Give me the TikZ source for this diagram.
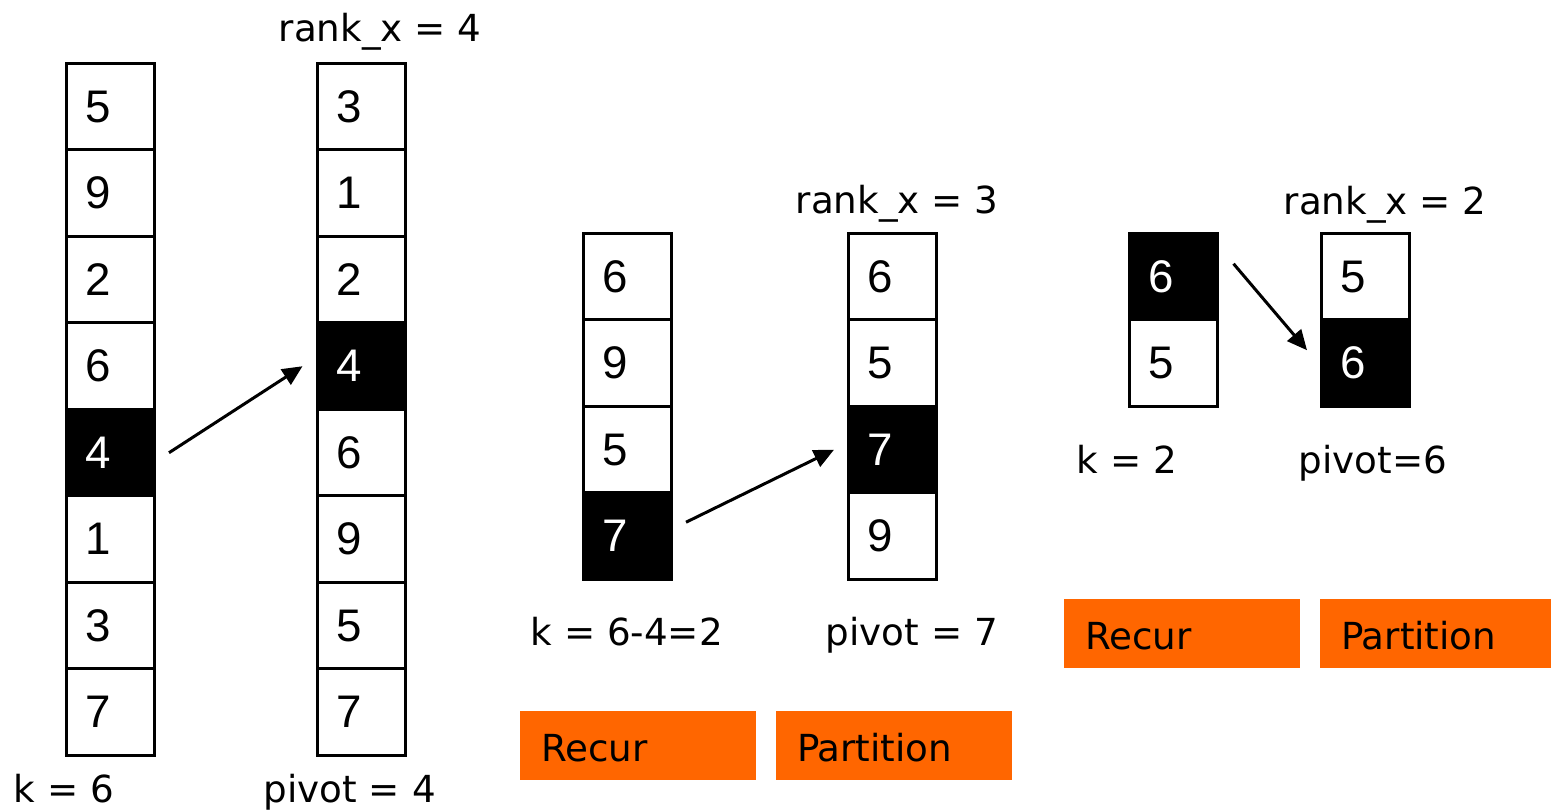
\documentclass[tikz,border=0pt]{standalone}
\usepackage{fontspec}
\setmainfont{DejaVu Sans}
\newfontfamily\cellfont{Liberation Sans}
\usepackage{tikz}
\usetikzlibrary{positioning}
\usetikzlibrary{arrows.meta}
\usepackage{xcolor}
\definecolor{boxorange}{HTML}{FF6600}

\tikzset{
    cell/.style={draw, line width=0.03cm, outer sep=0pt,
        minimum width=0.88cm, minimum height=0.865cm,
        inner xsep=0.19cm, inner ysep=0pt, text width=0.50cm, align=left,
        font=\cellfont\fontsize{13}{15}\selectfont},
    pivotcell/.style={cell, fill=black, text=white},
    note/.style={anchor=base west, inner sep=0pt, font=\fontsize{10.6}{12}\selectfont},
    action/.style={fill=boxorange, minimum width=2.36cm, minimum height=0.69cm,
        inner xsep=0.21cm, text width=1.94cm, align=left,
        text height=0.33cm, text depth=0cm,
        font=\fontsize{10.6}{12}\selectfont},
    pointer/.style={-{Triangle[length=0.2cm,width=0.18cm]}, line width=0.03cm}
}

\begin{document}
\begin{tikzpicture}
    \useasboundingbox (0,0) rectangle (15.51,8.12);

    % first call: k = 6
    \node[cell] (a1) at (1.10,7.0525) {5};
    \node[cell, below=0pt of a1] (a2) {9};
    \node[cell, below=0pt of a2] (a3) {2};
    \node[cell, below=0pt of a3] (a4) {6};
    \node[pivotcell, below=0pt of a4] (a5) {4};
    \node[cell, below=0pt of a5] (a6) {1};
    \node[cell, below=0pt of a6] (a7) {3};
    \node[cell, below=0pt of a7] (a8) {7};

    \node[cell] (b1) at (3.615,7.0525) {3};
    \node[cell, below=0pt of b1] (b2) {1};
    \node[cell, below=0pt of b2] (b3) {2};
    \node[pivotcell, below=0pt of b3] (b4) {4};
    \node[cell, below=0pt of b4] (b5) {6};
    \node[cell, below=0pt of b5] (b6) {9};
    \node[cell, below=0pt of b6] (b7) {5};
    \node[cell, below=0pt of b7] (b8) {7};

    \node[note] (rank1) at (2.78,7.70) {rank\_x = 4};
    \node[note] (k1) at (0.13,0.09) {k = 6};
    \node[note] (piv1) at (2.63,0.09) {pivot = 4};

    \draw[pointer] ([xshift=0.15cm]a5.east) -- ([xshift=-0.15cm]b4.west);

    % second call: k = 2 on the upper part
    \node[cell] (c1) at (6.27,5.3525) {6};
    \node[cell, below=0pt of c1] (c2) {9};
    \node[cell, below=0pt of c2] (c3) {5};
    \node[pivotcell, below=0pt of c3] (c4) {7};

    \node[cell] (d1) at (8.925,5.3525) {6};
    \node[cell, below=0pt of d1] (d2) {5};
    \node[pivotcell, below=0pt of d2] (d3) {7};
    \node[cell, below=0pt of d3] (d4) {9};

    \node[note] (rank2) at (7.95,5.98) {rank\_x = 3};
    \node[note] (k2) at (5.30,1.66) {k = 6-4=2};
    \node[note] (piv2) at (8.25,1.66) {pivot = 7};

    \draw[pointer] ([xshift=0.15cm,yshift=0.14cm]c4.east) -- ([xshift=-0.145cm]d3.west);

    \node[action] (recur1) at (6.38,0.665) {Recur};
    \node[action] (part1) at (8.94,0.665) {Partition};

    % third call: two elements left
    \node[pivotcell] (e1) at (11.735,5.3525) {6};
    \node[cell, below=0pt of e1] (e2) {5};

    \node[cell] (f1) at (13.655,5.3525) {5};
    \node[pivotcell, below=0pt of f1] (f2) {6};

    \node[note] (rank3) at (12.83,5.97) {rank\_x = 2};
    \node[note] (k3) at (10.76,3.38) {k = 2};
    \node[note] (piv3) at (12.98,3.38) {pivot=6};

    \draw[pointer] ([xshift=0.16cm,yshift=0.13cm]e1.east) -- ([xshift=-0.145cm,yshift=0.13cm]f2.west);

    \node[action] (recur2) at (11.82,1.785) {Recur};
    \node[action] (part2) at (14.38,1.785) {Partition};
\end{tikzpicture}
\end{document}
